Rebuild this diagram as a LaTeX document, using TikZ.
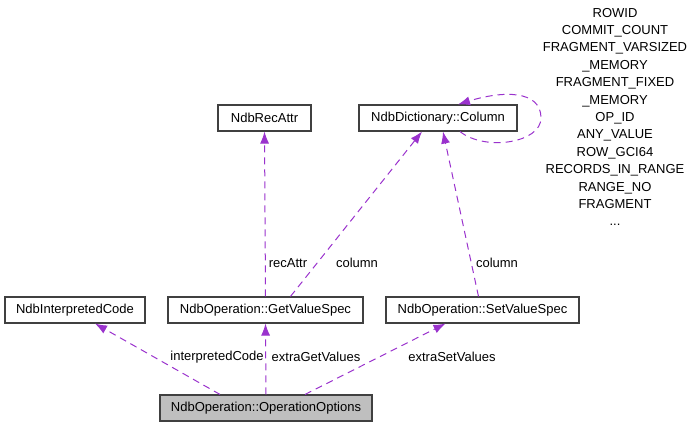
\documentclass[tikz,border=0pt]{standalone}
\usepackage{fontspec}
\setmainfont{Liberation Sans}
\usetikzlibrary{arrows.meta,calc}
\definecolor{edgec}{HTML}{9A32CD}
\definecolor{boxc}{HTML}{404040}
\begin{document}
\begin{tikzpicture}[x=1pt,y=-1pt,
  cls/.style={draw=boxc,line width=1.1pt,fill=white,minimum height=26pt,inner sep=0pt,font=\fontsize{13}{15}\selectfont},
  uses/.style={draw=edgec,line width=1pt,dash pattern=on 7pt off 5pt,-{Latex[length=12pt,width=9pt]}},
  lab/.style={font=\fontsize{13}{15}\selectfont,inner sep=1pt}]
\useasboundingbox (0,0) rectangle (697,427);
\node[cls,minimum width=140pt] (ic) at (75,310) {NdbInterpretedCode};
\node[cls,minimum width=195pt] (gv) at (265.5,310) {NdbOperation::GetValueSpec};
\node[cls,minimum width=193pt] (sv) at (482.5,310) {NdbOperation::SetValueSpec};
\node[cls,minimum width=212pt,fill={rgb,255:red,191;green,191;blue,191}] (oo) at (266,408) {NdbOperation::OperationOptions};
\node[cls,minimum width=93pt] (ra) at (264.5,118) {NdbRecAttr};
\node[cls,minimum width=158pt] (col) at (438,118) {NdbDictionary::Column};
\draw[uses] ([xshift=-46pt]oo.north) -- ([xshift=20pt]ic.south);
\draw[uses] (oo.north) -- (gv.south);
\draw[uses] ([xshift=39pt]oo.north) -- ([xshift=-37pt]sv.south);
\draw[uses] (gv.north) -- (ra.south);
\draw[uses] ([xshift=25pt]gv.north) -- ([xshift=-16pt]col.south);
\draw[uses] ([xshift=-4pt]sv.north) -- ([xshift=5pt]col.south);
\draw[uses] ([xshift=22pt]col.south) .. controls +(25,20) and +(0,25) .. (541,118) .. controls +(0,-28) and +(45,-14) .. ([xshift=20pt]col.north);
\node[lab] (l1) at (217,357) {interpretedCode};
\node[lab] (l2) at (316,357) {extraGetValues};
\node[lab] (l3) at (452,357) {extraSetValues};
\node[lab] (l4) at (288,263) {recAttr};
\node[lab] (l5) at (357,263) {column};
\node[lab] (l6) at (497,263) {column};
\node[lab,align=center,font=\fontsize{13}{17.4}\selectfont] (l7) at (615,117) {ROWID\\COMMIT\_COUNT\\FRAGMENT\_VARSIZED\\\_MEMORY\\FRAGMENT\_FIXED\\\_MEMORY\\OP\_ID\\ANY\_VALUE\\ROW\_GCI64\\RECORDS\_IN\_RANGE\\RANGE\_NO\\FRAGMENT\\...};
\end{tikzpicture}
\end{document}
